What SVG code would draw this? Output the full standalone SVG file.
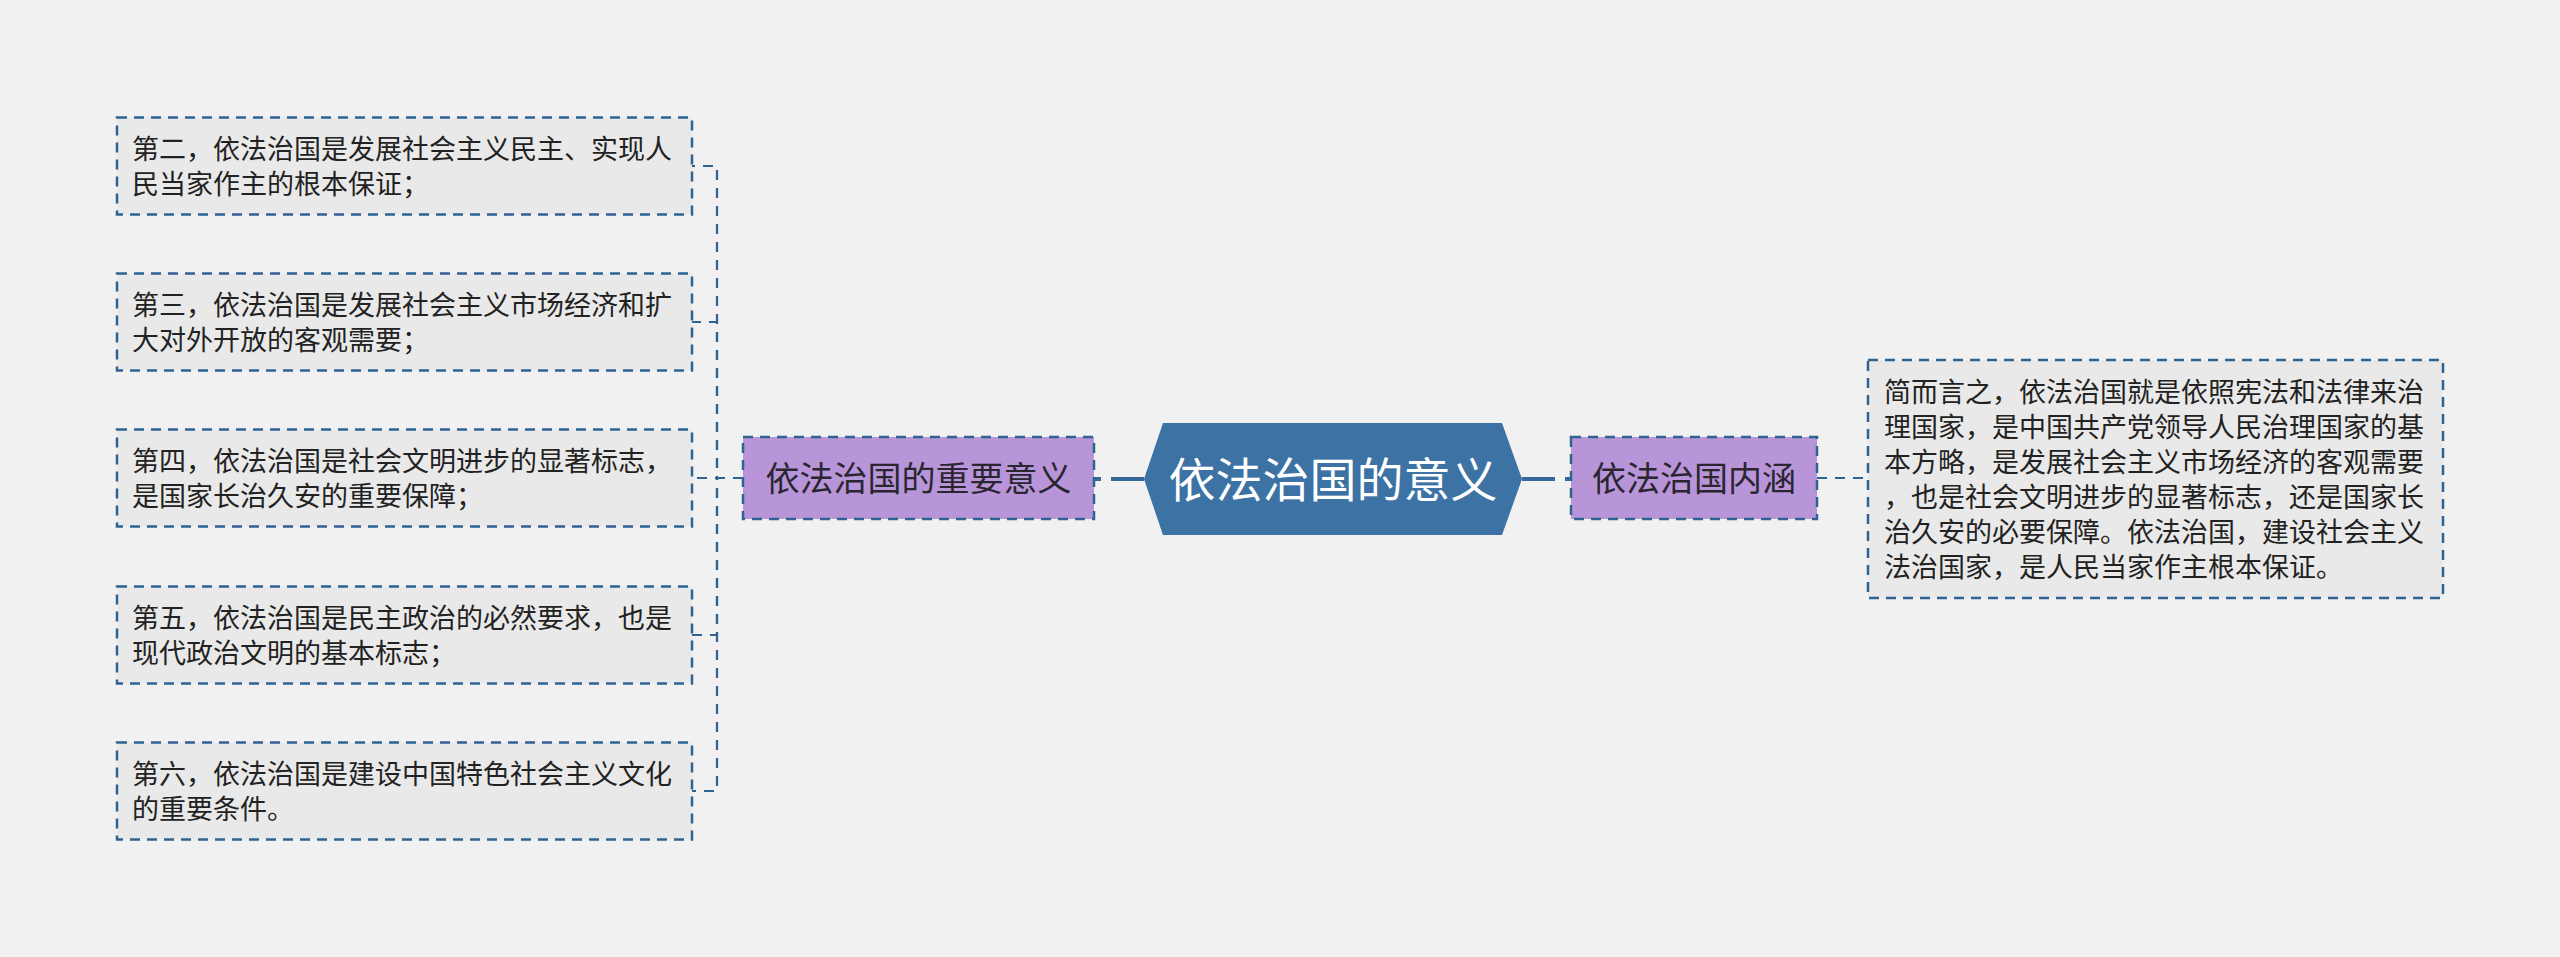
<svg xmlns="http://www.w3.org/2000/svg" width="2560" height="957" viewBox="0 0 2560 957">
<style>
text{font-family:"Noto Sans CJK SC","Noto Sans",sans-serif;}
.leaf rect{fill:#e9e9e9;stroke:#2f6392;stroke-width:2.5;stroke-dasharray:10 7;}
.leaf text{font-size:27px;fill:#222;}
.branch rect{fill:#b795d8;stroke:#2f6392;stroke-width:2.5;stroke-dasharray:10 7;}
.branch text{font-size:34px;fill:#2a2630;text-anchor:middle;}
.thin{fill:none;stroke:#2f6392;stroke-width:2.2;stroke-dasharray:10 8;}
.thick{fill:none;stroke:#36699a;stroke-width:4;stroke-dasharray:33 10;}
</style>
<rect x="0" y="0" width="2560" height="957" fill="#f1f1f1"/>
<g id="connectors">
<path class="thick" d="M1144,479 L1094,479"/>
<path class="thick" d="M1522,479 L1571,479"/>
<path class="thin" d="M743,478 L717,478 L717,166 L692,166"/>
<path class="thin" d="M743,478 L717,478 L717,322 L692,322"/>
<path class="thin" d="M743,478 L692,478"/>
<path class="thin" d="M743,478 L717,478 L717,635 L692,635"/>
<path class="thin" d="M743,478 L717,478 L717,791 L692,791"/>
<path class="thin" d="M1817,478 L1868,478"/>
</g>
<g id="center">
<polygon points="1163,423 1502,423 1522,479 1502,535 1163,535 1144,479" fill="#3d72a5"/>
<text x="1333" y="497" font-size="47" fill="#ffffff" text-anchor="middle">依法治国的意义</text>
</g>
<g id="branch-left" class="branch">
<rect x="743" y="437" width="351" height="82"/>
<text x="918.5" y="491">依法治国的重要意义</text>
</g>
<g id="branch-right" class="branch">
<rect x="1571" y="437" width="246" height="82"/>
<text x="1694" y="491">依法治国内涵</text>
</g>
<g id="leaf-2" class="leaf">
<rect x="117" y="117.5" width="575" height="97"/>
<text x="132" y="158.5">第二，依法治国是发展社会主义民主、实现人</text>
<text x="132" y="193.5">民当家作主的根本保证；</text>
</g>
<g id="leaf-3" class="leaf">
<rect x="117" y="273.5" width="575" height="97"/>
<text x="132" y="314.5">第三，依法治国是发展社会主义市场经济和扩</text>
<text x="132" y="349.5">大对外开放的客观需要；</text>
</g>
<g id="leaf-4" class="leaf">
<rect x="117" y="429.5" width="575" height="97"/>
<text x="132" y="470.5">第四，依法治国是社会文明进步的显著标志，</text>
<text x="132" y="505.5">是国家长治久安的重要保障；</text>
</g>
<g id="leaf-5" class="leaf">
<rect x="117" y="586.5" width="575" height="97"/>
<text x="132" y="627.5">第五，依法治国是民主政治的必然要求，也是</text>
<text x="132" y="662.5">现代政治文明的基本标志；</text>
</g>
<g id="leaf-6" class="leaf">
<rect x="117" y="742.5" width="575" height="97"/>
<text x="132" y="783.5">第六，依法治国是建设中国特色社会主义文化</text>
<text x="132" y="818.5">的重要条件。</text>
</g>
<g id="leaf-right" class="leaf">
<rect x="1868" y="360" width="575" height="238"/>
<text x="1884" y="401.5">简而言之，依法治国就是依照宪法和法律来治</text>
<text x="1884" y="436.5">理国家，是中国共产党领导人民治理国家的基</text>
<text x="1884" y="471.5">本方略，是发展社会主义市场经济的客观需要</text>
<text x="1884" y="506.5">，也是社会文明进步的显著标志，还是国家长</text>
<text x="1884" y="541.5">治久安的必要保障。依法治国，建设社会主义</text>
<text x="1884" y="576.5">法治国家，是人民当家作主根本保证。</text>
</g>
</svg>
